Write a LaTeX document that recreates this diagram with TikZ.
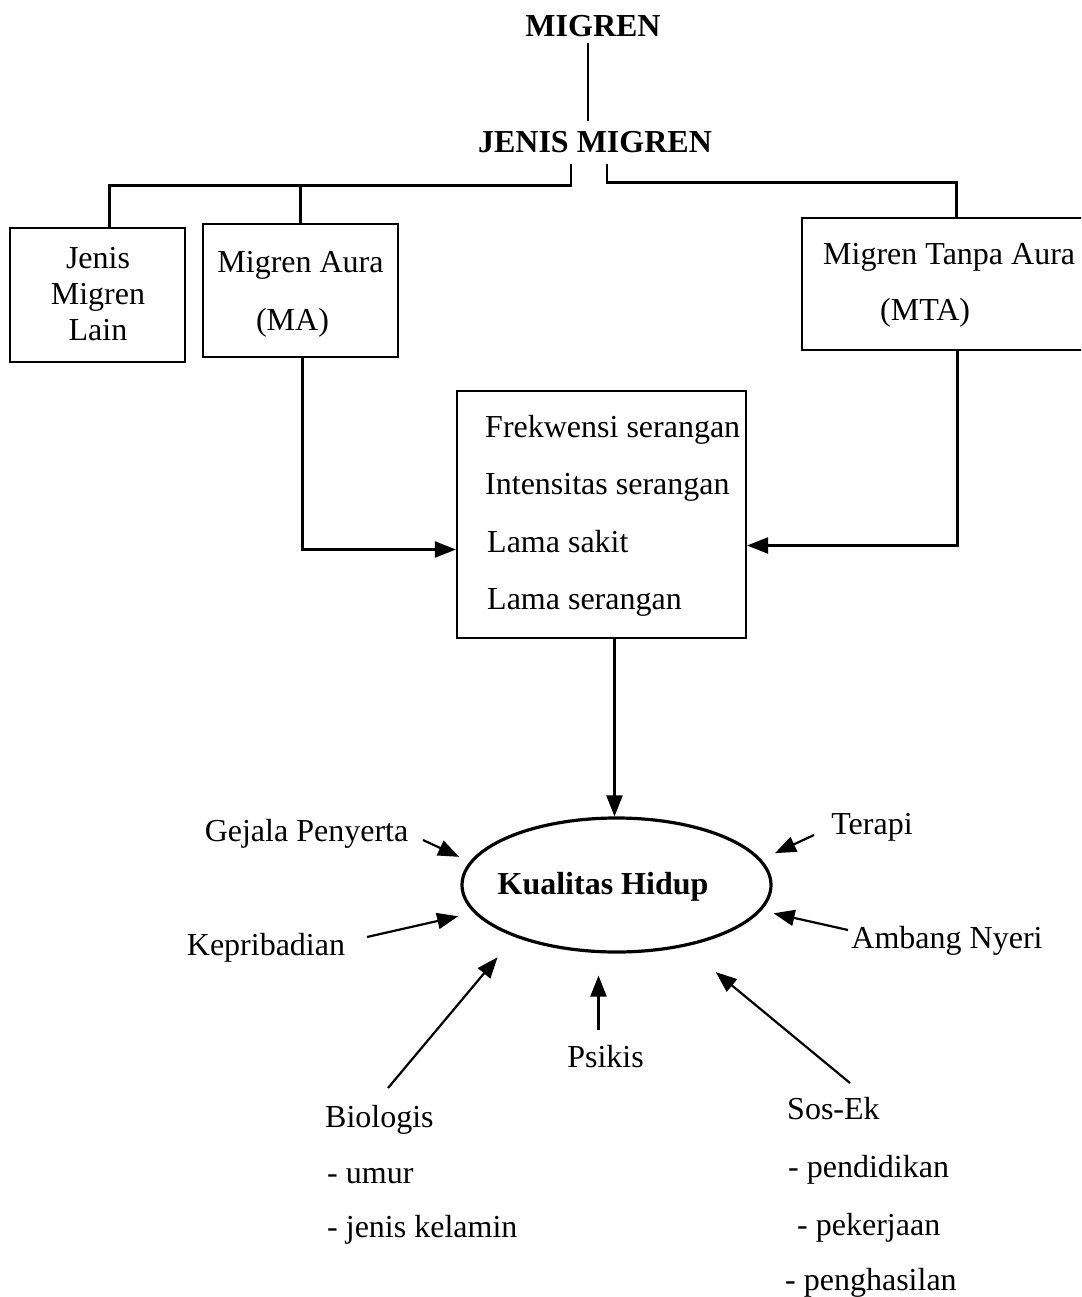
\documentclass[tikz,border=0pt]{standalone}
\usepackage{fontspec}
\setmainfont{Liberation Serif}
\usetikzlibrary{arrows.meta,shapes.geometric}
\begin{document}
\begin{tikzpicture}[x=1pt,y=-1pt,
  txt/.style={inner sep=0pt,anchor=base,font=\fontsize{32}{38}\selectfont},
  btxt/.style={inner sep=0pt,anchor=base,font=\fontsize{32}{38}\selectfont\bfseries},
  ltxt/.style={inner sep=0pt,anchor=base west,font=\fontsize{32}{38}\selectfont},
  box/.style={draw,line width=2.2pt,inner sep=0pt},
  ln/.style={line width=2.2pt},
  arr/.style={line width=2.2pt,-{Triangle[length=21pt,width=16pt]}},
]
\useasboundingbox (0,0) rectangle (1081,1297);
\clip (0,0) rectangle (1081,1297);
\fill[white] (0,0) rectangle (1081,1297);

% titles
\node[btxt] (mig) at (593,36.5) {MIGREN};
\node[btxt] (jen) at (595,153) {JENIS MIGREN};

% boxes
\node[box,minimum width=175pt,minimum height=134pt] (lain) at (97.5,295) {};
\node[box,minimum width=195pt,minimum height=133pt] (ma) at (300.5,290.5) {};
\node[box,minimum width=293pt,minimum height=132pt] (mta) at (948.5,284) {};
\node[box,minimum width=289pt,minimum height=247pt] (cbox) at (601.5,514.5) {};
\node[draw,ellipse,line width=3.2pt,minimum width=309pt,minimum height=134pt,inner sep=0pt] (ell) at (616.5,885) {};

% box texts
\node[txt] (l1) at (98,268) {Jenis};
\node[txt] (l2) at (98,304) {Migren};
\node[txt] (l3) at (98,340) {Lain};
\node[txt] (ma1) at (300.5,272) {Migren Aura};
\node[txt] (ma2) at (292.5,330) {(MA)};
\node[ltxt] (mta1) at (823,265) {Migren Tanpa Aura};
\node[ltxt] (mta2) at (880,320) {(MTA)};
\node[ltxt] (c1) at (485,437) {Frekwensi serangan};
\node[ltxt] (c2) at (485,494) {Intensitas serangan};
\node[ltxt] (c3) at (487,552) {Lama sakit};
\node[ltxt] (c4) at (487,609) {Lama serangan};
\node[btxt] (kh) at (603,894) {Kualitas Hidup};

% factor labels
\node[txt] (gej) at (306.5,841) {Gejala Penyerta};
\node[txt] (kep) at (266,955) {Kepribadian};
\node[txt] (ter) at (872,834) {Terapi};
\node[txt] (amb) at (947,948) {Ambang Nyeri};
\node[txt] (psi) at (605.5,1067) {Psikis};
\node[ltxt] (bio) at (325,1127) {Biologis};
\node[ltxt] (bio1) at (327,1183) {- umur};
\node[ltxt] (bio2) at (327,1237) {- jenis kelamin};
\node[ltxt] (sos) at (787,1119) {Sos-Ek};
\node[ltxt] (sos1) at (788,1177) {- pendidikan};
\node[ltxt] (sos2) at (797,1235) {- pekerjaan};
\node[ltxt] (sos3) at (785,1290) {- penghasilan};

% tree connectors
\draw[ln] ([xshift=-5pt,yshift=-6pt]mig.south) -- ([xshift=-7pt,yshift=11pt]jen.north);
\draw[ln] ([xshift=-24pt,yshift=-10pt]jen.south) -- ++(0,22) -| ([xshift=12pt]lain.north);
\draw[ln] (ma.north) -- (ma.north |- 0,185);
\draw[ln] ([xshift=12pt,yshift=-10pt]jen.south) -- ++(0,19) -| ([xshift=8pt]mta.north);

% arrows into central box and ellipse
\draw[arr] ([xshift=2pt]ma.south) |- ([yshift=-35pt]cbox.west);
\draw[arr] ([xshift=9pt]mta.south) |- ([yshift=-31pt]cbox.east);
\draw[arr] ([xshift=-2pt]cbox.south -| ell.north) -- ([xshift=-2pt]ell.north);

% factor arrows
\coordinate (gT) at (423,840);
\coordinate (kT) at (367,937);
\coordinate (tT) at (814,835);
\coordinate (aT) at (848,930);
\coordinate (pT) at (598.5,1030);
\coordinate (bT) at (388,1088);
\coordinate (sT) at (850,1083);
\draw[arr,shorten >=11.6pt] (gT) -- (ell.171);
\draw[arr,shorten >=16pt] (kT) -- (ell.191);
\draw[arr,shorten >=15pt] (tT) -- (ell.10);
\draw[arr,shorten >=12.5pt] (aT) -- (ell.350);
\draw[arr,shorten >=22pt] (pT) -- (pT |- ell.south);
\draw[arr,shorten >=26.5pt] (bT) -- (ell.207);
\draw[arr,shorten >=40pt] (sT) -- (ell.318);
\end{tikzpicture}
\end{document}
